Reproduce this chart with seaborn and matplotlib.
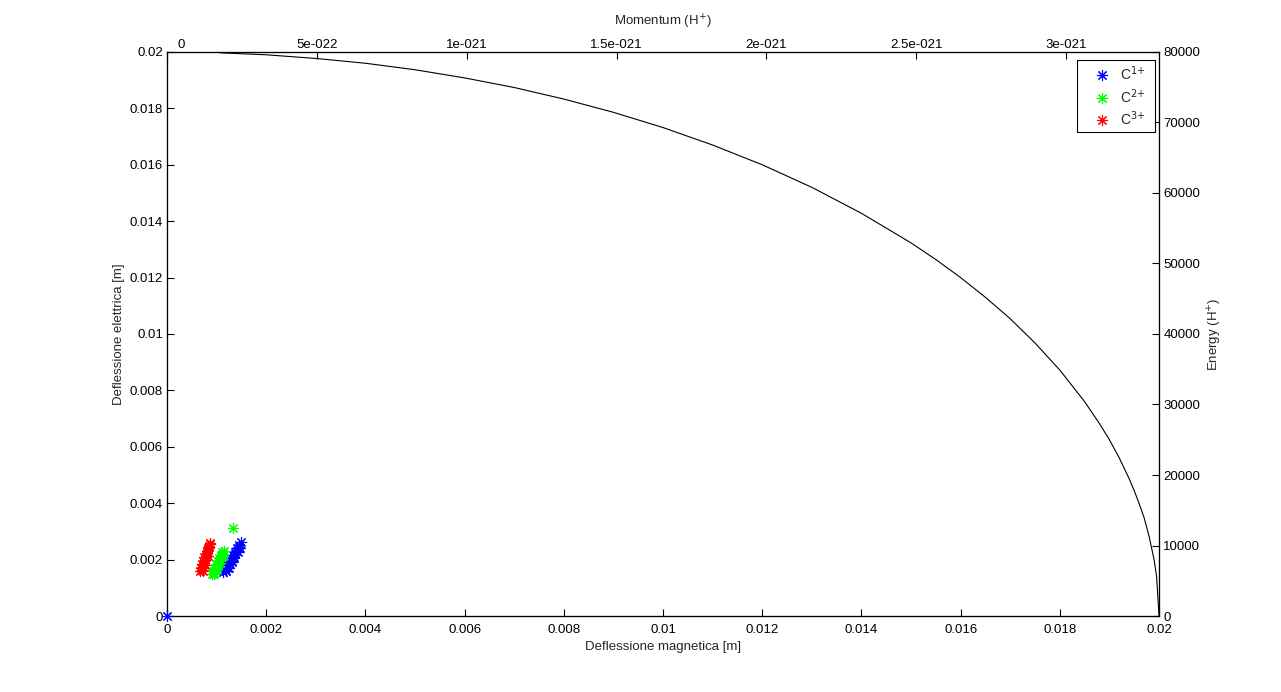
import matplotlib
matplotlib.use('Agg')
import matplotlib.pyplot as plt
import matplotlib.transforms as mtransforms
import seaborn as sns
import pandas as pd

# boundary curve
curve_x = [0.00107, 0.002, 0.003, 0.004, 0.005, 0.006, 0.007, 0.008, 0.009, 0.010,
           0.011, 0.012, 0.013, 0.014, 0.015, 0.0155, 0.016, 0.0165, 0.017, 0.0175,
           0.018, 0.0185, 0.0188, 0.019, 0.0192, 0.0194, 0.0195, 0.0196, 0.0197,
           0.0198, 0.0199, 0.01995, 0.02]
curve_y = [0.01997, 0.01990, 0.01977, 0.01960, 0.01937, 0.01908, 0.01874, 0.01833,
           0.01786, 0.01732, 0.01670, 0.01600, 0.01520, 0.01428, 0.01323, 0.01264,
           0.01200, 0.01130, 0.01054, 0.00968, 0.00872, 0.00760, 0.00682, 0.00625,
           0.00560, 0.00486, 0.00444, 0.00398, 0.00348, 0.00282, 0.00200, 0.00141, 0.0]

# ion clusters
c1_x = [0.0, 0.00113, 0.00118, 0.00117, 0.00122, 0.00121, 0.00126, 0.00125, 0.00130,
        0.00129, 0.00134, 0.00133, 0.00138, 0.00137, 0.00142, 0.00141, 0.00146,
        0.00145, 0.00150, 0.00119, 0.00124, 0.00131, 0.00136, 0.00143, 0.00148]
c1_y = [0.0, 0.00155, 0.00160, 0.00168, 0.00172, 0.00180, 0.00184, 0.00192, 0.00196,
        0.00204, 0.00208, 0.00216, 0.00220, 0.00228, 0.00232, 0.00240, 0.00246,
        0.00253, 0.00262, 0.00158, 0.00170, 0.00190, 0.00206, 0.00226, 0.00242]

c2_x = [0.00090, 0.00094, 0.00093, 0.00097, 0.00096, 0.00100, 0.00099, 0.00103,
        0.00102, 0.00106, 0.00105, 0.00109, 0.00108, 0.00112, 0.00111, 0.00115,
        0.00095, 0.00101, 0.00107, 0.00113, 0.00133]
c2_y = [0.00148, 0.00152, 0.00160, 0.00163, 0.00172, 0.00175, 0.00183, 0.00186,
        0.00194, 0.00197, 0.00205, 0.00208, 0.00215, 0.00219, 0.00226, 0.00232,
        0.00150, 0.00168, 0.00188, 0.00212, 0.00312]

c3_x = [0.00066, 0.00070, 0.00068, 0.00073, 0.00071, 0.00075, 0.00073, 0.00077,
        0.00075, 0.00079, 0.00078, 0.00081, 0.00080, 0.00083, 0.00082, 0.00085,
        0.00084, 0.00087, 0.00072, 0.00076, 0.00082, 0.00086]
c3_y = [0.00158, 0.00162, 0.00172, 0.00175, 0.00185, 0.00188, 0.00196, 0.00200,
        0.00208, 0.00210, 0.00218, 0.00222, 0.00230, 0.00233, 0.00240, 0.00244,
        0.00250, 0.00254, 0.00160, 0.00180, 0.00214, 0.00258]

x_ticks = [0, 0.002, 0.004, 0.006, 0.008, 0.01, 0.012, 0.014, 0.016, 0.018, 0.02]
x_labels = ['0', '0.002', '0.004', '0.006', '0.008', '0.01', '0.012', '0.014',
            '0.016', '0.018', '0.02']
y_ticks = [0, 0.002, 0.004, 0.006, 0.008, 0.01, 0.012, 0.014, 0.016, 0.018, 0.02]
y_labels = ['0', '0.002', '0.004', '0.006', '0.008', '0.01', '0.012', '0.014',
            '0.016', '0.018', '0.02']
mom_ticks = [0, 5e-22, 1e-21, 1.5e-21, 2e-21, 2.5e-21, 3e-21]
mom_labels = ['0', '5e-022', '1e-021', '1.5e-021', '2e-021', '2.5e-021', '3e-021']
energy_ticks = [0, 10000, 20000, 30000, 40000, 50000, 60000, 70000, 80000]

sns.set_style('white')
plt.rcParams['font.family'] = ['Liberation Sans', 'DejaVu Sans']
plt.rcParams['font.size'] = 9.5
plt.rcParams['axes.edgecolor'] = 'black'
plt.rcParams['axes.linewidth'] = 0.8

fig = plt.figure(figsize=(12.81, 6.92), dpi=100)
ax = fig.add_axes([0.1304, 0.1098, 0.9048 - 0.1304, 0.9249 - 0.1098])

curve = pd.DataFrame({'x': curve_x, 'y': curve_y})
sns.lineplot(data=curve, x='x', y='y', ax=ax, color='black', linewidth=0.8,
             sort=False, estimator=None)

star = (8, 2, 0)
sets = [(c1_x, c1_y, '#0000ff', 'C$^{1{+}}$  '),
        (c2_x, c2_y, '#00ff00', 'C$^{2{+}}$  '),
        (c3_x, c3_y, '#ff0000', 'C$^{3{+}}$  ')]
handles = []
for xs, ys, col, lab in sets:
    h, = ax.plot(xs, ys, linestyle='none', marker=star, markersize=8,
                 markeredgewidth=0.8, color=col, label=lab, clip_on=False, zorder=5)
    handles.append(h)

ax.set_xlim(0, 0.02)
ax.set_ylim(0, 0.02)
ax.set_xticks(x_ticks)
ax.set_xticklabels(x_labels)
ax.set_yticks(y_ticks)
ax.set_yticklabels(y_labels)
ax.tick_params(direction='in', length=5, width=0.8, pad=3, colors='black',
               labelsize=9.5, bottom=True, left=True, top=False, right=False)
ax.tick_params(axis='x', pad=6)
ax.set_xlabel('Deflessione magnetica [m]', fontsize=9.5, labelpad=3)
ax.set_ylabel('Deflessione elettrica [m]', fontsize=9.5, labelpad=3)

leg = ax.legend(handles=handles, loc='upper right',
                bbox_to_anchor=(1 - 4 / 992, 1 - 8 / 564), borderaxespad=0,
                fancybox=False, frameon=True, edgecolor='black', framealpha=1,
                fontsize=10, handlelength=3.0, handletextpad=-0.2,
                labelspacing=0.3, borderpad=0.3)
leg.get_frame().set_linewidth(0.8)
leg.set_zorder(10)

ax_top = ax.twiny()
ax_top.set_xlim(0, 3.31e-21)
ax_top.set_xticks(mom_ticks)
ax_top.set_xticklabels(mom_labels)
ax_top.tick_params(direction='in', length=5, width=0.8, pad=1, labelsize=9.5,
                   colors='black')
ax_top.set_xlabel('Momentum (H$^{+}$)', fontsize=9.5, labelpad=9)
# the first momentum label sits a little to the right of its tick
first = ax_top.get_xticklabels()[0]
first.set_transform(first.get_transform() +
                    mtransforms.ScaledTranslation(14 / 100, 0, fig.dpi_scale_trans))

ax_right = ax.twinx()
ax_right.set_ylim(0, 80000)
ax_right.set_yticks(energy_ticks)
ax_right.set_yticklabels([str(t) for t in energy_ticks])
ax_right.tick_params(direction='in', length=5, width=0.8, pad=3, labelsize=9.5,
                     colors='black')
ax_right.set_ylabel('Energy (H$^{+}$)', fontsize=9.5, labelpad=4)

for a in (ax, ax_top, ax_right):
    for s in a.spines.values():
        s.set_color('black')
        s.set_linewidth(0.8)

# keep the legend above the twin axes
ax.set_zorder(ax_right.get_zorder() + 1)
ax.patch.set_visible(False)

fig.savefig('out.png', dpi=100)
